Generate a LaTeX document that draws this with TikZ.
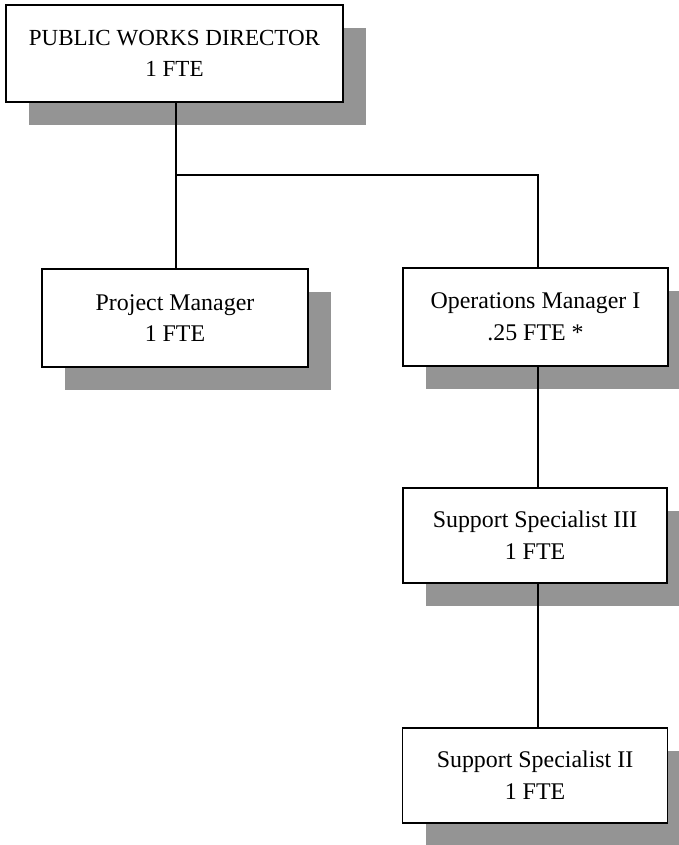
\documentclass[tikz,border=0pt]{standalone}
\usepackage{fontspec}
\setmainfont{Liberation Serif}
\usetikzlibrary{shadows}

\tikzset{
  post/.style={draw, line width=1.1pt, fill=white, align=center,
    font=\fontsize{13.6}{18}\selectfont,
    general shadow={fill=black!42, shadow xshift=0.46cm, shadow yshift=-0.46cm}},
  link/.style={line width=1pt}
}

\begin{document}
\begin{tikzpicture}
                \useasboundingbox (0,0) rectangle (13.58,-16.90);
                \node[post, minimum width=6.74cm, minimum height=1.94cm, font=\fontsize{13.1}{18}\selectfont] (dir) at (3.49,-1.07) {PUBLIC WORKS DIRECTOR\\1 FTE};
                \node[post, minimum width=5.32cm, minimum height=1.96cm] (pm) at (3.50,-6.36) {Project Manager\\1 FTE};
                \node[post, minimum width=5.30cm, minimum height=1.96cm] (ops) at (10.71,-6.34) {Operations Manager I\\.25 FTE *};
                \node[post, minimum width=5.28cm, minimum height=1.90cm] (ss3) at (10.70,-10.71) {Support Specialist III\\1 FTE};
                \node[post, minimum width=5.30cm, minimum height=1.90cm] (ss2) at (10.70,-15.51) {Support Specialist II\\1 FTE};

                \coordinate (split) at (3.52,-3.50);
                \coordinate (lane) at (10.76,-3.50);
                \draw[link] (dir.south -| split) -- (split) -- (pm.north -| split);
                \draw[link] (split) -- (lane) -- (ops.north -| lane);
                \draw[link] (ops.south -| lane) -- (ss3.north -| lane);
                \draw[link] (ss3.south -| lane) -- (ss2.north -| lane);
            \end{tikzpicture}
\end{document}
